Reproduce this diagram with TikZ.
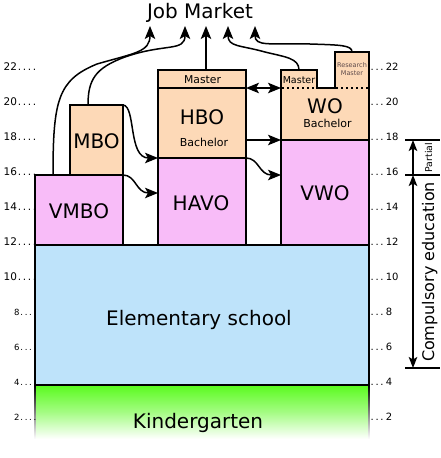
\documentclass[tikz,border=0pt]{standalone}
\usepackage{fontspec}
\setmainfont{DejaVu Sans}
\usetikzlibrary{arrows.meta,calc}
\definecolor{peach}{RGB}{253,217,183}
\definecolor{lpink}{RGB}{248,188,248}
\definecolor{lblue}{RGB}{190,227,250}
\definecolor{kgreen}{RGB}{90,250,30}
\definecolor{rmgray}{RGB}{95,75,75}
\newcommand\agedotsl{\kern0.8pt.\kern1.7pt.\kern1.7pt.\kern1.7pt.}
\newcommand\agedotsr{.\kern1.7pt.\kern1.7pt.\kern2.2pt}
\begin{document}
\begin{tikzpicture}[x=1pt,y=-1pt,
  box/.style={draw=black, line width=1.6pt, inner sep=0pt, outer sep=0pt, anchor=north west},
  conn/.style={line width=1.5pt, -{Stealth[length=13pt,width=10.5pt,inset=3pt]}},
  dconn/.style={line width=1.5pt, {Stealth[length=13pt,width=10.5pt,inset=3pt]}-{Stealth[length=13pt,width=10.5pt,inset=3pt]}},
  bconn/.style={line width=1.5pt, -{Stealth[length=11pt,width=8.5pt,inset=2.5pt]}},
  bdconn/.style={line width=1.5pt, {Stealth[length=11pt,width=8.5pt,inset=2.5pt]}-{Stealth[length=11pt,width=8.5pt,inset=2.5pt]}},
  big/.style={font=\fontsize{20}{24}\selectfont, anchor=base, inner sep=0pt},
  small/.style={font=\fontsize{11}{13}\selectfont, anchor=base, inner sep=0pt},
  agel/.style={font=\fontsize{10.5}{12}\selectfont, anchor=base east, inner sep=0pt},
  agels/.style={font=\fontsize{8.5}{10}\selectfont, anchor=base east, inner sep=0pt},
  ager/.style={font=\fontsize{10}{12}\selectfont, anchor=base west, inner sep=0pt},
  bracket/.style={line width=1.5pt}
]
\useasboundingbox (0,0) rectangle (440,458);

% Kindergarten (fading)
\shade[top color=kgreen, bottom color=white, middle color=kgreen!55] (34.2,385) rectangle (369.8,439);
\shade[top color=black, bottom color=white] (34.4,385) rectangle (35.6,439);
\shade[top color=black, bottom color=white] (368.4,385) rectangle (369.6,439);

% boxes
\node[box, fill=lblue, minimum width=334pt, minimum height=140pt] (elem) at (35,245) {};
\node[box, fill=lpink, minimum width=88pt, minimum height=70pt] (vmbo) at (35,175) {};
\node[box, fill=peach, minimum width=53pt, minimum height=70pt] (mbo) at (70,105) {};
\node[box, fill=lpink, minimum width=88pt, minimum height=87pt] (havo) at (158,158) {};
\node[box, fill=peach, minimum width=88pt, minimum height=88pt] (hbo) at (158,70) {};
\draw[line width=1.6pt] (158,88) -- (246,88);
\node[box, fill=lpink, minimum width=88pt, minimum height=105pt] (vwo) at (281,140) {};
\draw[fill=peach, line width=1.6pt, line join=miter]
  (281,140) -- (281,70) -- (317,70) -- (317,88) -- (335,88) -- (335,52) -- (369,52) -- (369,140) -- cycle;
\draw[line width=1.6pt, dash pattern=on 1.6pt off 3.4pt] (282,88) -- (317,88);
\draw[line width=1.6pt, dash pattern=on 1.6pt off 3.4pt] (336,88) -- (369,88);

% labels
\node[big] (jm) at (200,18) {Job Market};
\node[big] at (96.5,148) {MBO};
\node[big] at (79,218) {VMBO};
\node[big] at (201,210) {HAVO};
\node[big] at (202,124) {HBO};
\node[small] at (204,146) {Bachelor};
\node[font=\fontsize{10.8}{12}\selectfont, anchor=base, inner sep=0pt] at (202.5,83) {Master};
\node[big] at (325,113) {WO};
\node[small] at (327.5,127) {Bachelor};
\node[font=\fontsize{9.5}{11}\selectfont, anchor=base, inner sep=0pt] at (299,83) {Master};
\node[font=\fontsize{6.5}{7.5}\selectfont, text=rmgray, align=center, inner sep=0pt] at (352,69) {Research\\Master};
\node[big] at (325,200) {VWO};
\node[big] at (199,325) {Elementary school};
\node[big] at (198,428) {Kindergarten};

% age scales
\foreach \a in {10,12,...,22} {
  \pgfmathsetmacro\yy{455-17.5*\a}
  \node[agel] at (36.5,\yy) {\a\agedotsl};
}
\foreach \a in {2,4,6,8} {
  \pgfmathsetmacro\yy{455-17.5*\a}
  \node[agels] at (36.5,\yy) {\a\agedotsl};
}
\foreach \a in {2,4,...,22} {
  \pgfmathsetmacro\yy{455-17.5*\a}
  \node[ager] at (370.5,\yy) {\agedotsr\a};
}

% connector endpoints
\coordinate (jm1) at (150,26);
\coordinate (jm2) at (185,26);
\coordinate (jm3) at (206,26);
\coordinate (jm4) at (228,26);
\coordinate (jm5) at (255,26);
\coordinate (vmbotop) at (53,175);
\coordinate (mbotop) at (88,105);
\coordinate (hbotop) at (206,70);
\coordinate (womtop) at (299,70);
\coordinate (rmtop) at (352,52);
\coordinate (hboin) at (158,158);
\coordinate (havoin) at (158,193);
\coordinate (havoout) at (246,158);
\coordinate (vwoin) at (281,175);
\coordinate (hboout) at (246,140);
\coordinate (woin) at (281,140);
\coordinate (hbom) at (246,88);
\coordinate (wom) at (281,88);

% connectors to job market
\draw[conn] (vmbotop) .. controls (53,100) and (58,80) .. (97,64) .. controls (135,53) and (150,52) .. (jm1);
\draw[conn] (mbotop) .. controls (88,80) and (95,68) .. (125,57) .. controls (165,43) and (185,52) .. (jm2);
\draw[conn] (hbotop) -- (jm3);
\draw[conn] (womtop) .. controls (299,58) and (285,57) .. (265,52) .. controls (240,45) and (228,47) .. (jm4);
\draw[conn] (rmtop) .. controls (352,45) and (340,45) .. (310,44) .. controls (270,43) and (255,47) .. (jm5);

% transfer connectors
\draw[conn] (mbo.north east) .. controls (136,106) and (128,158) .. (hboin);
\draw[conn] (vmbo.north east) .. controls (136,175) and (136,193) .. (havoin);
\draw[conn] (havoout) .. controls (259,158) and (259,175) .. (vwoin);
\draw[conn] (hboout) -- (woin);
\draw[dconn] (hbom) -- (wom);

% compulsory education bracket
\coordinate (b18l) at (405,140); \coordinate (b18r) at (440,140);
\coordinate (b16l) at (405,175); \coordinate (b16r) at (440,175);
\coordinate (b5l) at (405,368); \coordinate (b5r) at (440,368);
\coordinate (a18) at (413,140); \coordinate (a16) at (413,175); \coordinate (a5) at (413,368);
\draw[bracket] (b18l) -- (b18r);
\draw[bracket] (b16l) -- (b16r);
\draw[bracket] (b5l) -- (b5r);
\draw[bconn] (a16) -- (a18);
\draw[bdconn] (a5) -- (a16);
\node[rotate=90, anchor=base, inner sep=0pt, font=\fontsize{9.4}{11}\selectfont] at (432,157.5) {Partial};
\node[rotate=90, anchor=base, inner sep=0pt, font=\fontsize{16}{19}\selectfont] at (434,272) {Compulsory education};
\end{tikzpicture}
\end{document}
